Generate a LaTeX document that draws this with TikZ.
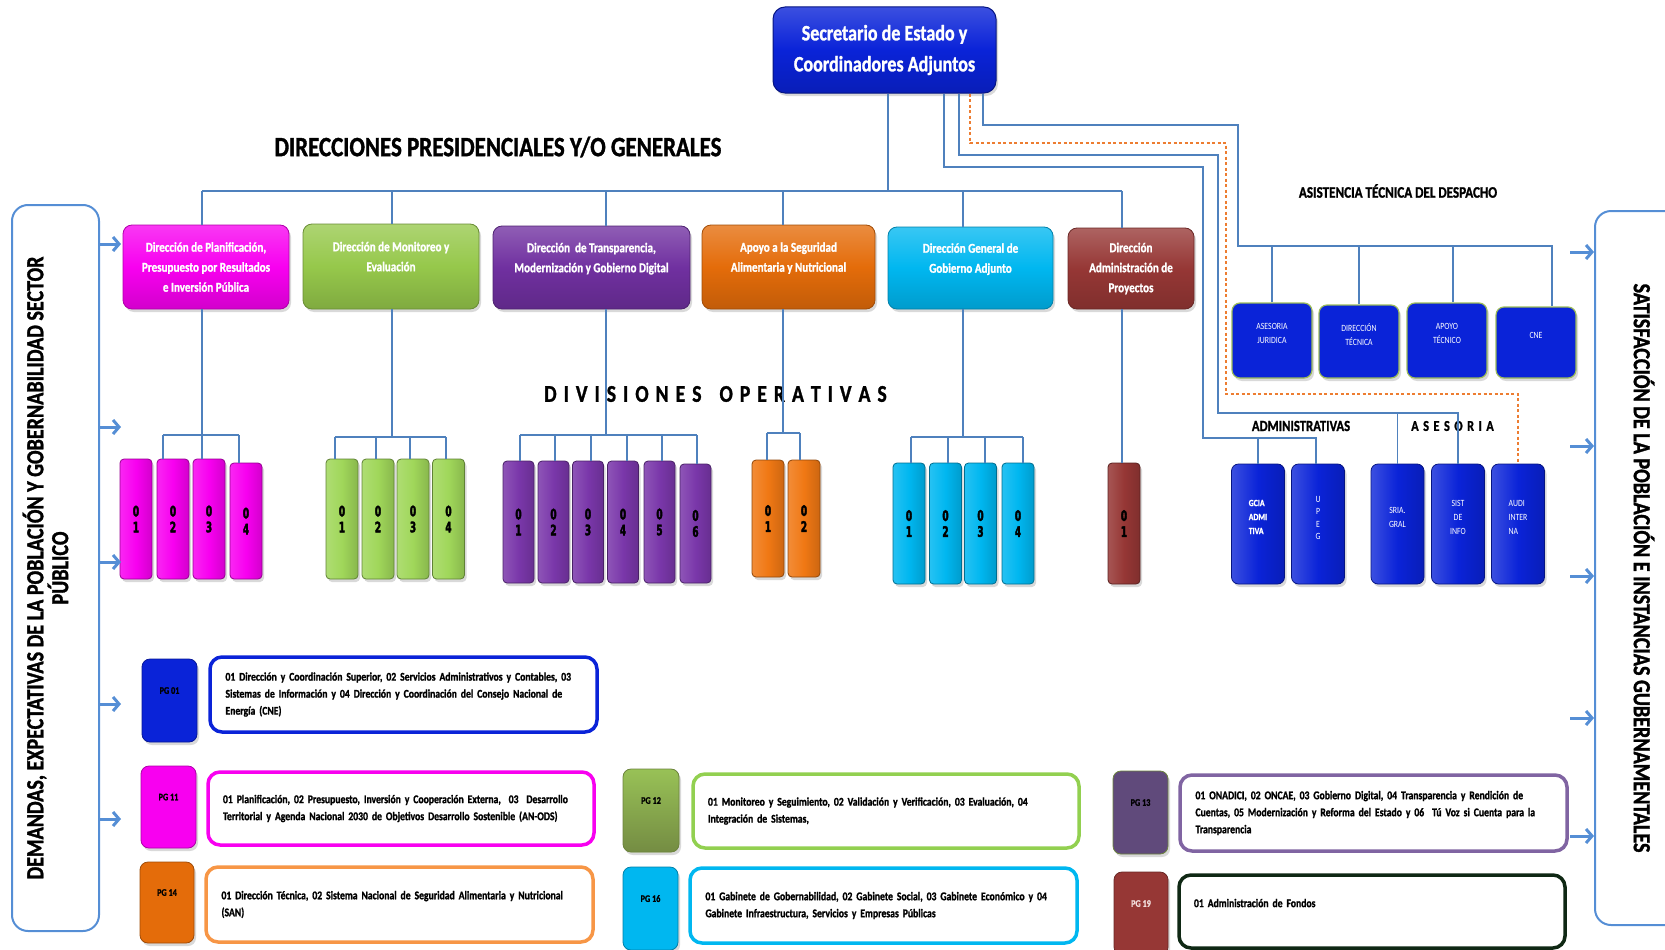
\documentclass[tikz,border=0pt]{standalone}
\usepackage{fontspec}
\setmainfont{Carlito}[FakeStretch=0.82, BoldFeatures={FakeBold=1.2}]
\newfontfamily\digfont{DejaVu Sans}[FakeStretch=0.62, BoldFeatures={FakeBold=2.5}]
\usetikzlibrary{arrows.meta,shadows}
\definecolor{mag}{RGB}{248,0,240}
\definecolor{grn}{RGB}{150,200,75}
\definecolor{dgrn}{RGB}{160,215,90}
\definecolor{pur}{RGB}{112,48,160}
\definecolor{dpurp}{RGB}{122,55,170}
\definecolor{org}{RGB}{228,108,10}
\definecolor{dorg}{RGB}{240,120,20}
\definecolor{cyn}{RGB}{0,183,240}
\definecolor{drd}{RGB}{150,55,53}
\definecolor{blu}{RGB}{10,35,216}
\definecolor{linec}{RGB}{79,129,189}
\definecolor{arrc}{RGB}{85,142,213}
\definecolor{dashcol}{RGB}{237,125,49}
\definecolor{lorg}{RGB}{247,150,70}
\definecolor{lgrn}{RGB}{146,208,80}
\definecolor{mpur}{RGB}{128,100,162}
\definecolor{pg13c}{RGB}{96,74,123}
\definecolor{dkg}{RGB}{15,40,20}
\definecolor{olv}{RGB}{155,187,89}
\definecolor{pinkw}{RGB}{242,220,219}
\newcommand\fsz[2]{\fontsize{#1}{#2}\selectfont}
\newcommand\lsp{\kern7pt\relax}
\newcommand\lsq{\kern4.5pt\relax}
\tikzset{
  conn/.style={draw=linec, line width=1.2pt},
  dconn/.style={draw=dashcol, line width=1.5pt, dash pattern=on 3pt off 2.5pt},
  arr/.style={draw=arrc, line width=3pt, -{Straight Barb[length=6pt,width=14pt]}},
  shad/.style={drop shadow={shadow xshift=2pt, shadow yshift=-3pt, opacity=0.3}},
  secbox/.style={rounded corners=12pt, shad, top color=blu!80!white, bottom color=blu!85!black, middle color=blu, draw=blu!60!black, line width=1pt, text=white, font=\bfseries\fsz{22}{31}, align=center, minimum width=223, minimum height=86},
  dirbox/.style={rounded corners=9pt, shad, top color=#1!78!white, bottom color=#1!85!black, middle color=#1, draw=#1!70!black, line width=0.8pt, text=white, font=\bfseries\fsz{13.5}{20}, align=center, inner sep=2pt},
  divbox/.style={rounded corners=4pt, shad, left color=#1!85!white, right color=#1!85!black, middle color=#1, draw=#1!60!black, line width=0.8pt, minimum width=32, minimum height=120, inner sep=0pt, font=\digfont\bfseries\fsz{14.5}{16}, align=center, text=black},
  atdbox/.style={rounded corners=8pt, shad, fill=blu, draw=olv, line width=1.2pt, minimum width=80, minimum height=75, text=white, font=\fsz{9.5}{14}, align=center, inner sep=1pt},
  admbox/.style={rounded corners=7pt, shad, left color=blu!80!white, right color=blu!85!black, middle color=blu, draw=blu!60!black, line width=0.8pt, minimum width=53, minimum height=120, text=white, font=\fsz{9.5}{14}, align=center, inner sep=1pt},
  pgtag/.style={rounded corners=8pt, shad, fill=#1, draw=#1!70!black, line width=0.8pt, minimum width=55, minimum height=83, inner sep=0pt, font=\bfseries\fsz{10}{12}, text=black, align=center},
  descbox/.style={rounded corners=12pt, draw=#1, line width=3.5pt, fill=white, minimum width=387, minimum height=75, text width=356, align=left, font=\bfseries\fsz{11.8}{17}, text=black},
  panel/.style={rounded corners=16pt, draw=arrc, line width=2pt},
  sidetext/.style={font=\bfseries\fsz{24.5}{23}, align=center, text=black}
}
\begin{document}
\begin{tikzpicture}[x=1pt,y=-1pt]
\useasboundingbox (0,0) rectangle (1665,950);

% side panels
\node[panel, minimum width=87, minimum height=726] (lpanel) at (55.5,568) {};
\node[sidetext, rotate=90] (ltext) at (45.5,568) {DEMANDAS, EXPECTATIVAS DE LA POBLACIÓN Y GOBERNABILIDAD SECTOR\\PÚBLICO};
\node[panel, minimum width=105, minimum height=714] (rpanel) at (1647.5,568) {};
\node[sidetext, rotate=-90] (rtext) at (1644,568) {SATISFACCIÓN DE LA POBLACIÓN E INSTANCIAS GUBERNAMENTALES};

% top
\node[secbox] (sec) at (884.5,50) {Secretario de Estado y\\Coordinadores Adjuntos};
\node[font=\bfseries\fsz{28}{30}] (title) at (498,147) {DIRECCIONES PRESIDENCIALES Y/O GENERALES};

% direction boxes
\node[dirbox=mag, minimum width=166, minimum height=84] (d1) at (206,267) {Dirección de Planificación,\\Presupuesto por Resultados\\e Inversión Pública};
\node[dirbox=grn, minimum width=176, minimum height=85] (d2) at (391,266.5) {Dirección de Monitoreo y\\Evaluación\\\mbox{}};
\node[dirbox=pur, minimum width=197, minimum height=83] (d3) at (591.5,267.5) {Dirección\ \ de Transparencia,\\Modernización y Gobierno Digital\\\mbox{}};
\node[dirbox=org, minimum width=173, minimum height=84] (d4) at (788.5,267) {Apoyo a la Seguridad\\Alimentaria y Nutricional\\\mbox{}};
\node[dirbox=cyn, minimum width=165, minimum height=82] (d5) at (970.5,268) {Dirección General de\\Gobierno Adjunto\\\mbox{}};
\node[dirbox=drd, minimum width=126, minimum height=81] (d6) at (1131,268.5) {Dirección\\Administración de\\Proyectos};

% divisiones title
\node[font=\bfseries\fsz{24}{26}] (divt) at (715.5,394) {D\lsp I\lsp V\lsp I\lsp S\lsp I\lsp O\lsp N\lsp E\lsp S\kern18pt O\lsp P\lsp E\lsp R\lsp A\lsp T\lsp I\lsp V\lsp A\lsp S};

% division boxes
\node[divbox=mag] (pk1) at (136,519) {0\\1};
\node[divbox=mag] (pk2) at (173,519) {0\\2};
\node[divbox=mag] (pk3) at (209,519) {0\\3};
\node[divbox=mag, minimum height=116] (pk4) at (246,521) {0\\4};
\node[divbox=dgrn] (gr1) at (342,519) {0\\1};
\node[divbox=dgrn] (gr2) at (378,519) {0\\2};
\node[divbox=dgrn] (gr3) at (413,519) {0\\3};
\node[divbox=dgrn] (gr4) at (448.5,519) {0\\4};
\node[divbox=dpurp, minimum width=31, minimum height=122] (pu1) at (518.5,522) {0\\1};
\node[divbox=dpurp, minimum width=31, minimum height=122] (pu2) at (553.5,522) {0\\2};
\node[divbox=dpurp, minimum width=31, minimum height=122] (pu3) at (588,522) {0\\3};
\node[divbox=dpurp, minimum width=31, minimum height=122] (pu4) at (623,522) {0\\4};
\node[divbox=dpurp, minimum width=31, minimum height=122] (pu5) at (659.5,522) {0\\5};
\node[divbox=dpurp, minimum width=31, minimum height=119] (pu6) at (695.5,523.5) {0\\6};
\node[divbox=dorg, minimum height=117] (or1) at (768,518.5) {0\\1};
\node[divbox=dorg, minimum height=117] (or2) at (804,518.5) {0\\2};
\node[divbox=cyn, minimum height=121] (cy1) at (909,523.5) {0\\1};
\node[divbox=cyn, minimum height=121] (cy2) at (945.5,523.5) {0\\2};
\node[divbox=cyn, minimum height=121] (cy3) at (980.5,523.5) {0\\3};
\node[divbox=cyn, minimum height=121] (cy4) at (1018,523.5) {0\\4};
\node[divbox=drd, minimum height=121] (rd1) at (1124,523.5) {0\\1};

% asistencia tecnica
\node[font=\bfseries\fsz{16}{18}] (atdt) at (1398,191) {ASISTENCIA TÉCNICA DEL DESPACHO};
\node[atdbox] (aj) at (1272,340.5) {ASESORIA\\JURIDICA\\\mbox{}};
\node[atdbox, minimum height=73] (dt) at (1359,341.5) {DIRECCIÓN\\TÉCNICA\\\mbox{}};
\node[atdbox] (ap) at (1447,340.5) {APOYO\\TÉCNICO\\\mbox{}};
\node[atdbox, minimum height=71] (cne) at (1536,342.5) {CNE\\\mbox{}};

\node[font=\bfseries\fsz{15.5}{16}] (admt) at (1301,426) {ADMINISTRATIVAS};
\node[font=\bfseries\fsz{15}{16}] (aset) at (1452.5,426) {A\lsq S\lsq E\lsq S\lsq O\lsq R\lsq I\lsq A};

\node[admbox, align=left, font=\bfseries\fsz{9.5}{14}] (gcia) at (1258,524) {GCIA\\ADMI\\TIVA\\\mbox{}};
\node[admbox, font=\fsz{9.5}{12.3}] (upeg) at (1318,524) {U\\P\\E\\G\\\mbox{}};
\node[admbox] (sria) at (1397.5,524) {SRIA.\\GRAL\\\mbox{}};
\node[admbox] (sist) at (1458,524) {SIST\\DE\\INFO\\\mbox{}};
\node[admbox, align=left] (audi) at (1518,524) {AUDI\\INTER\\NA\\\mbox{}};

% PG tags
\node[pgtag=blu] (pg01) at (169.5,700.5) {PG 01\\[8pt]\mbox{}};
\node[pgtag=mag, minimum height=82] (pg11) at (168.5,807) {PG 11\\[8pt]\mbox{}};
\node[pgtag=org, minimum width=54, minimum height=81] (pg14) at (167,902.5) {PG 14\\[8pt]\mbox{}};
\node[pgtag=olv, top color=olv!70!lgrn, bottom color=olv!75!black, minimum width=56] (pg12) at (651,810.5) {PG 12\\[8pt]\mbox{}};
\node[pgtag=cyn] (pg16) at (650.5,908.5) {PG 16\\[8pt]\mbox{}};
\node[pgtag=pg13c, draw=olv!70!black] (pg13) at (1140.5,812.5) {PG 13\\[8pt]\mbox{}};
\node[pgtag=drd, text=pinkw, minimum width=54] (pg19) at (1141,913.5) {PG 19\\[8pt]\mbox{}};

% description boxes
\node[descbox=blu] (t01) at (403.5,694.5) {01 Dirección y Coordinación Superior, 02 Servicios Administrativos y Contables, 03\\Sistemas de Información y 04 Dirección y Coordinación del Consejo Nacional de\\Energía (CNE)};
\node[descbox=mag, minimum width=386, minimum height=73] (t11) at (401,808.5) {01 Planificación, 02 Presupuesto, Inversión y Cooperación Externa,\ \ 03\ \ Desarrollo\\Territorial y Agenda Nacional 2030 de Objetivos Desarrollo Sostenible (AN-ODS)};
\node[descbox=lorg] (t14) at (399.5,904.5) {01 Dirección Técnica, 02 Sistema Nacional de Seguridad Alimentaria y Nutricional\\(SAN)};
\node[descbox=lgrn, minimum width=386, minimum height=74] (t12) at (886,811) {01 Monitoreo y Seguimiento, 02 Validación y Verificación, 03 Evaluación, 04\\Integración de Sistemas,};
\node[descbox=cyn] (t16) at (883.5,905.5) {01 Gabinete de Gobernabilidad, 02 Gabinete Social, 03 Gabinete Económico y 04\\Gabinete Infraestructura, Servicios y Empresas Públicas};
\node[descbox=mpur, minimum height=76] (t13) at (1373.5,813) {01 ONADICI, 02 ONCAE, 03 Gobierno Digital, 04 Transparencia y Rendición de\\Cuentas, 05 Modernización y Reforma del Estado y 06\ \ Tú Voz si Cuenta para la\\Transparencia};
\node[descbox=dkg, minimum width=386, minimum height=73] (t19) at (1372,911.5) {01 Administración de Fondos\\\mbox{}};

% ---- connectors: main tree
\coordinate (trunk) at ([xshift=3.5pt]sec.south);
\coordinate (t1) at (202,191);
\coordinate (t2) at (392,191);
\coordinate (t3) at (606,191);
\coordinate (t4) at (783,191);
\coordinate (t5) at (963,191);
\coordinate (t6) at (1122,191);
\draw[conn] (trunk) -- (trunk |- t1);
\draw[conn] (t1) -- (t6);
\foreach \i in {1,...,6} {\draw[conn] (t\i) -- (t\i |- d\i.north);}

% pink group
\coordinate (pa) at (163,435);
\coordinate (pb) at (239,435);
\draw[conn] (t1 |- d1.south) -- (t1 |- pk3.north);
\draw[conn] (pa) -- (pb);
\draw[conn] (pa) -- (pa |- pk2.north);
\draw[conn] (pb) -- (pb |- pk4.north);

% green group
\coordinate (ga) at (335,437);
\coordinate (gb) at (446,437);
\coordinate (gc) at (376,437);
\coordinate (gd) at (410,437);
\draw[conn] (t2 |- d2.south) -- (t2 |- ga);
\draw[conn] (ga) -- (gb);
\draw[conn] (ga) -- (ga |- gr1.north);
\draw[conn] (gc) -- (gc |- gr2.north);
\draw[conn] (gd) -- (gd |- gr3.north);
\draw[conn] (gb) -- (gb |- gr4.north);

% purple group
\coordinate (pua) at (520,435);
\coordinate (pub) at (697,435);
\draw[conn] (t3 |- d3.south) -- (t3 |- pua);
\draw[conn] (pua) -- (pub);
\foreach \x/\n in {520/1,555/2,591/3,627/4,662/5,697/6} {\coordinate (q) at (\x,435); \draw[conn] (q) -- (q |- pu\n.north);}

% orange group
\coordinate (oa) at (767,433);
\coordinate (ob) at (800,433);
\draw[conn] (t4 |- d4.south) -- (t4 |- oa);
\draw[conn] (oa) -- (ob);
\draw[conn] (oa) -- (oa |- or1.north);
\draw[conn] (ob) -- (ob |- or2.north);

% cyan group
\coordinate (ca) at (911,437);
\coordinate (cb) at (1023,437);
\draw[conn] (t5 |- d5.south) -- (t5 |- ca);
\draw[conn] (ca) -- (cb);
\foreach \x/\n in {911/1,948/2,985/3,1023/4} {\coordinate (q) at (\x,437); \draw[conn] (q) -- (q |- cy\n.north);}

% red
\draw[conn] (t6 |- d6.south) -- (t6 |- rd1.north);

% asistencia tecnica lines
\coordinate (xA) at (983,125);
\coordinate (cA1) at (1238,246);
\coordinate (cA2) at (1552,246);
\coordinate (cA3) at (1453,246);
\draw[conn] (xA |- sec.south) -- (xA) -| (cA1) -- (cA2) -- (cA2 |- cne.north);
\draw[conn] (aj.north |- cA1) -- (aj.north);
\draw[conn] (dt.north |- cA1) -- (dt.north);
\draw[conn] (cA3) -- (cA3 |- ap.north);

\coordinate (xB) at (959,155);
\coordinate (cB1) at (1218,413);
\coordinate (cB2) at (1458,413);
\draw[conn] (xB |- sec.south) -- (xB) -| (cB1) -- (cB2) -- (cB2 |- sist.north);
\draw[conn] (sria.north |- cB1) -- (sria.north);

\coordinate (xC) at (944,167);
\coordinate (cC1) at (1203,438);
\coordinate (cC2) at (1316,438);
\draw[conn] (xC |- sec.south) -- (xC) -| (cC1) -- (cC2) -- (cC2 |- upeg.north);
\draw[conn] (gcia.north |- cC1) -- (gcia.north);

\coordinate (xD) at (970,143);
\coordinate (cD1) at (1226,394);
\draw[dconn] (xD |- sec.south) -- (xD) -| (cD1) -- (cD1 -| audi.north) -- (audi.north);

% side arrows
\foreach \y [count=\i] in {244,427,562,704,819} {\coordinate (le\i) at (121,\y); \draw[arr] (lpanel.east |- le\i) -- (le\i);}
\foreach \y [count=\i] in {252,446,576,718,836} {\coordinate (rs\i) at (1570,\y); \draw[arr] (rs\i) -- (rs\i -| rpanel.west);}
\end{tikzpicture}
\end{document}
